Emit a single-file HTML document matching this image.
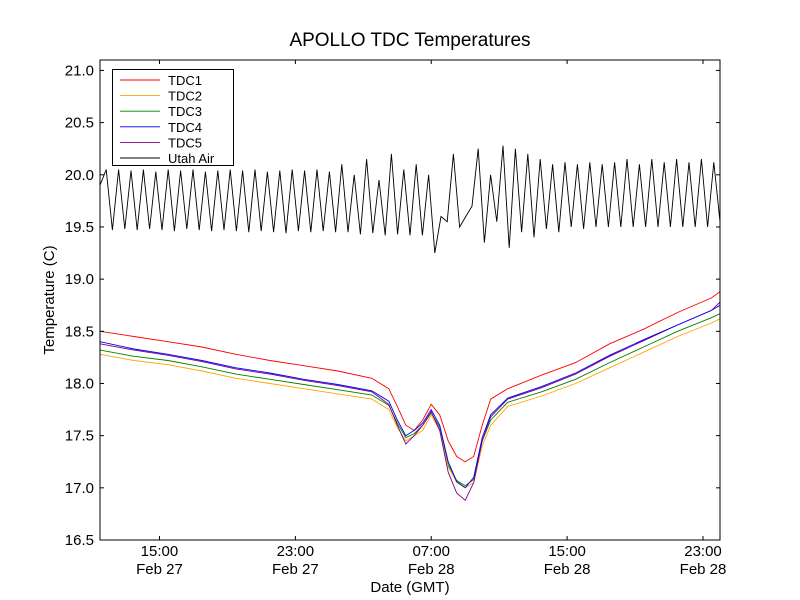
<!DOCTYPE html>
<html><head><meta charset="utf-8"><style>
body{margin:0;background:#fff;}
svg{display:block;font-family:"Liberation Sans","DejaVu Sans",sans-serif;}
</style></head><body>
<svg id="chart" width="800" height="600">
<rect width="800" height="600" fill="#fff"/>
<text x="410" y="46" text-anchor="middle" font-size="19">APOLLO TDC Temperatures</text>
<g id="plot"></g>
<text x="410" y="592" text-anchor="middle" font-size="15">Date (GMT)</text>
<text transform="translate(54,300) rotate(-90)" text-anchor="middle" font-size="15">Temperature (C)</text>
</svg>
<script>
const times=[0,2,4,6,8,10,12,14,16,17,17.5,18,18.5,19,19.5,20,20.5,21,21.5,22,22.5,23,24,26,28,30,32,34,36,36.5];
const tdc1=[18.5,18.45,18.4,18.35,18.28,18.22,18.17,18.12,18.05,17.95,17.78,17.6,17.55,17.65,17.8,17.7,17.45,17.3,17.25,17.3,17.6,17.85,17.95,18.08,18.2,18.38,18.52,18.68,18.82,18.88];
const tdc2=[18.28,18.22,18.18,18.12,18.05,18.0,17.95,17.9,17.85,17.75,17.58,17.45,17.5,17.55,17.7,17.55,17.2,17.05,17.0,17.05,17.4,17.6,17.78,17.88,18.0,18.15,18.3,18.45,18.58,18.62];
const tdc3=[18.32,18.26,18.22,18.16,18.09,18.04,17.99,17.94,17.89,17.79,17.62,17.48,17.52,17.6,17.72,17.58,17.22,17.07,17.02,17.08,17.45,17.65,17.82,17.92,18.04,18.2,18.35,18.5,18.63,18.67];
const tdc4=[18.4,18.33,18.28,18.22,18.15,18.1,18.04,17.99,17.93,17.83,17.65,17.5,17.55,17.62,17.75,17.6,17.25,17.06,17.0,17.1,17.48,17.7,17.86,17.97,18.1,18.27,18.42,18.56,18.7,18.75];
const tdc5=[18.38,18.32,18.27,18.21,18.14,18.09,18.03,17.98,17.92,17.8,17.6,17.42,17.5,17.6,17.73,17.55,17.15,16.95,16.88,17.05,17.45,17.68,17.85,17.96,18.09,18.26,18.41,18.56,18.7,18.78];
const airTimes=[];
const airVals=[19.9,20.05,19.47,20.05,19.48,20.04,19.47,20.05,19.48,20.03,19.47,20.05,19.46,20.04,19.48,20.05,19.47,20.03,19.46,20.04,19.47,20.05,19.46,20.04,19.45,20.05,19.46,20.03,19.45,20.04,19.44,20.05,19.46,20.04,19.45,20.05,19.46,20.03,19.45,20.1,19.45,20.0,19.43,20.15,19.44,19.95,19.42,20.2,19.43,20.05,19.42,20.1,19.42,20.0,19.25,19.6,19.55,20.2,19.5,19.6,19.7,20.25,19.35,20.0,19.55,20.28,19.3,20.25,19.45,20.2,19.4,20.15,19.48,20.1,19.45,20.12,19.5,20.1,19.48,20.12,19.5,20.1,19.5,20.12,19.5,20.15,19.5,20.1,19.5,20.15,19.5,20.12,19.5,20.15,19.5,20.12,19.5,20.15,19.5,20.12,19.55];
const yTicks=[16.5,17.0,17.5,18.0,18.5,19.0,19.5,20.0,20.5,21.0];
const xTickHours=[3.5,11.5,19.5,27.5,35.5];
const xTickTimes=["15:00","23:00","07:00","15:00","23:00"];
const xTickDates=["Feb 27","Feb 27","Feb 28","Feb 28","Feb 28"];
const seriesNames=["TDC1","TDC2","TDC3","TDC4","TDC5","Utah Air"];
const seriesColors=["#ff0000","#ffa500","#008000","#0000ff","#800080","#000000"];

const L=100,R=720,T=60,B=540,HMAX=36.5,YMIN=16.5,YMAX=21.1;
const xs=h=>L+(h/HMAX)*(R-L);
const ys=v=>B-(v-YMIN)/(YMAX-YMIN)*(B-T);
const NS="http://www.w3.org/2000/svg";
const g=document.getElementById('plot');
function mk(tag,attrs){const e=document.createElementNS(NS,tag);for(const k in attrs)e.setAttribute(k,attrs[k]);return e;}
for(let i=0;i<airVals.length;i++)airTimes.push(i*HMAX/(airVals.length-1));

const clip=mk('clipPath',{id:'pc'});clip.appendChild(mk('rect',{x:L,y:T,width:R-L,height:B-T}));g.appendChild(clip);
const lines=mk('g',{'clip-path':'url(#pc)'});g.appendChild(lines);
const data=[tdc1,tdc2,tdc3,tdc4,tdc5];
function addLine(tt,vv,i){
  const p=mk('polyline',{points:vv.map((v,j)=>xs(tt[j]).toFixed(1)+','+ys(v).toFixed(1)).join(' '),fill:'none',stroke:seriesColors[i],'stroke-width':0.9});
  
  
  lines.appendChild(p);
}
addLine(airTimes,airVals,5);
[2,1,0,4,3].forEach(i=>addLine(times,data[i],i));

const frame=mk('rect',{x:L,y:T,width:R-L,height:B-T,fill:'none',stroke:'#000','stroke-width':1});


g.appendChild(frame);
yTicks.forEach(v=>{
  const y=ys(v);
  g.appendChild(mk('line',{x1:L,x2:L+4,y1:y,y2:y,stroke:'#000'}));
  g.appendChild(mk('line',{x1:R,x2:R-4,y1:y,y2:y,stroke:'#000'}));
  const t=mk('text',{x:L-6,y:y+5,'text-anchor':'end','font-size':15});
  t.textContent=v.toFixed(1);
  
  
  g.appendChild(t);
});
xTickHours.forEach((h,i)=>{
  const x=xs(h);
  g.appendChild(mk('line',{x1:x,x2:x,y1:B,y2:B-4,stroke:'#000'}));
  g.appendChild(mk('line',{x1:x,x2:x,y1:T,y2:T+4,stroke:'#000'}));
  const t=mk('text',{x:x,y:B+16,'text-anchor':'middle','font-size':15});
  t.textContent=xTickTimes[i];
  
  
  g.appendChild(t);
  const d=mk('text',{x:x,y:B+34,'text-anchor':'middle','font-size':15});
  d.textContent=xTickDates[i];
  
  
  g.appendChild(d);
});
const leg=mk('g',{});


g.appendChild(leg);
leg.appendChild(mk('rect',{x:112.5,y:69.5,width:121,height:96,fill:'#fff',stroke:'#000'}));
seriesNames.forEach((n,i)=>{
  const y=80+i*15.6;
  const e=mk('g',{});
  
  
  e.appendChild(mk('line',{x1:120,x2:160,y1:y,y2:y,stroke:seriesColors[i],'stroke-width':0.9}));
  const t=mk('text',{x:168,y:y+5,'font-size':13});
  t.textContent=n;
  e.appendChild(t);
  leg.appendChild(e);
});
</script>
</body></html>
